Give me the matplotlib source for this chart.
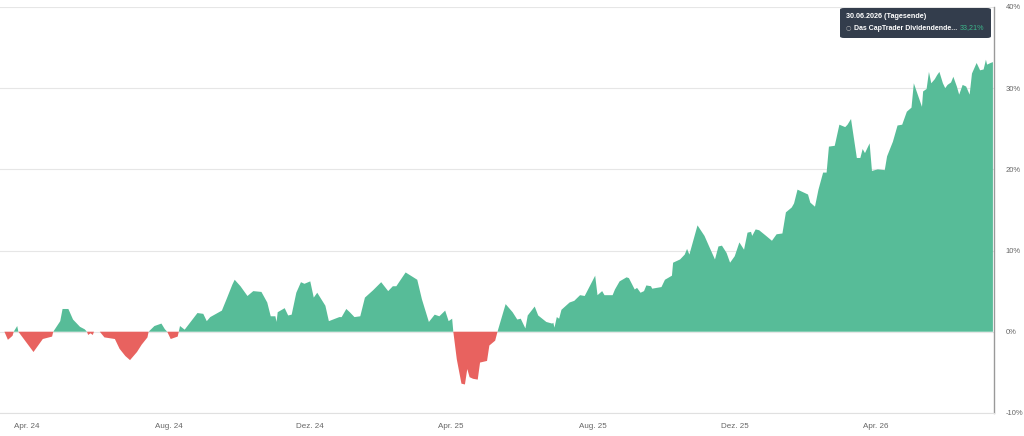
import numpy as np
import pandas as pd
import matplotlib
matplotlib.use("Agg")
import matplotlib.pyplot as plt
import matplotlib.dates as mdates
from matplotlib.patches import FancyBboxPatch

plt.rcParams['font.family'] = ['Liberation Sans', 'DejaVu Sans']

# days since 1 Apr 2024 and performance in %
start = pd.Timestamp("2024-04-01")
days = [-19, -16, -12, -11, -8, -7, 6, 14, 22, 23, 29, 31, 36, 40, 46, 50, 52, 53, 55, 57,
        58, 63, 67, 76, 80, 85, 89, 95, 99, 104, 105, 110, 116, 119, 121, 124, 130, 132, 136, 147,
        152, 155, 158, 168, 172, 177, 179, 184, 190, 195, 202, 207, 210, 214, 215, 216, 222, 225, 228, 232,
        236, 239, 244, 247, 250, 257, 260, 269, 271, 275, 278, 282, 287, 291, 298, 305, 311, 315, 318, 326,
        336, 340, 346, 351, 355, 360, 363, 366, 367, 370, 374, 377, 379, 381, 384, 388, 390, 396, 398, 403,
        405, 412, 418, 422, 425, 429, 431, 437, 440, 447, 452, 453, 454, 456, 458, 460, 467, 471, 476, 480,
        489, 491, 495, 497, 504, 506, 510, 516, 518, 523, 525, 528, 531, 533, 537, 538, 546, 549, 555, 556,
        562, 566, 568, 570, 577, 583, 587, 592, 595, 598, 602, 605, 609, 613, 617, 620, 623, 624, 627, 630,
        636, 641, 645, 650, 653, 658, 660, 663, 672, 674, 678, 681, 685, 688, 690, 695, 699, 704, 706, 709,
        714, 717, 719, 721, 725, 727, 732, 738, 740, 745, 749, 753, 757, 761, 763, 770, 771, 774, 776, 778,
        781, 783, 785, 788, 790, 792, 795, 797, 800, 802, 805, 808, 811, 813, 817, 820, 823, 825, 826, 829,
        831]
perf = [0, -1.0, -0.5, 0, 0.7, 0, -2.5, -0.9, -0.6, 0, 1.3, 2.8, 2.8, 1.5, 0.6, 0.3, 0, -0.4, -0.2, -0.4,
        0, 0, -0.7, -0.9, -2.1, -3.0, -3.5, -2.5, -1.6, -0.7, 0, 0.7, 1.0, 0.3, 0, -0.9, -0.6, 0.7, 0.25, 2.3,
        2.2, 1.3, 1.8, 2.6, 4.0, 5.8, 6.4, 5.6, 4.4, 5.0, 4.9, 3.6, 1.9, 1.9, 1.2, 2.4, 2.9, 2.0, 2.1, 4.8,
        6.1, 5.9, 6.2, 4.2, 4.8, 3.2, 1.3, 1.8, 1.8, 2.8, 2.4, 1.8, 1.9, 4.2, 5.1, 6.1, 5.0, 5.6, 5.6, 7.3,
        6.4, 4.0, 1.2, 2.1, 1.9, 2.6, 1.3, 1.6, 0, -3.4, -6.4, -6.5, -4.6, -5.6, -5.8, -5.9, -3.8, -3.6, -1.7, -1.1,
        0, 3.4, 2.4, 1.5, 1.6, 0.4, 2.0, 3.1, 2.0, 1.2, 1.0, 1.1, 0.5, 1.8, 1.6, 2.7, 3.6, 3.8, 4.5, 4.4,
        6.9, 4.5, 5.0, 4.5, 4.5, 5.2, 6.2, 6.7, 6.6, 5.2, 5.4, 4.8, 5.0, 5.7, 5.6, 5.3, 5.5, 6.4, 6.9, 8.5,
        8.9, 9.5, 10.2, 9.5, 13.1, 11.8, 10.5, 8.9, 10.5, 10.6, 9.7, 8.5, 9.3, 11.0, 10.1, 12.2, 12.3, 11.8, 12.6, 12.5,
        11.8, 11.2, 12.0, 12.1, 14.7, 15.3, 15.8, 17.5, 16.9, 15.9, 15.4, 17.5, 19.6, 19.6, 22.8, 22.9, 25.5, 25.2, 25.5, 26.2,
        21.4, 21.4, 22.5, 22.0, 23.2, 19.8, 20.0, 19.9, 21.6, 23.4, 25.4, 25.5, 27.1, 27.6, 30.6, 27.7, 29.6, 29.9, 32.0, 30.6,
        31.1, 31.6, 32.0, 30.6, 30.0, 30.4, 30.7, 31.4, 30.2, 29.2, 30.4, 30.2, 29.2, 31.8, 33.1, 32.2, 32.3, 33.5, 32.9, 33.1,
        33.21]

tick_months = ["2024-04-01", "2024-08-01", "2024-12-01", "2025-04-01", "2025-08-01", "2025-12-01", "2026-04-01"]
tick_labels = ["Apr. 24", "Aug. 24", "Dez. 24", "Apr. 25", "Aug. 25", "Dez. 25", "Apr. 26"]
y_ticks = [-10, 0, 10, 20, 30, 40]

dates = start + pd.to_timedelta(days, unit="D")
x = mdates.date2num(dates.to_pydatetime())
y = np.array(perf)

green = "#57bc98"
red = "#e8625f"

fig = plt.figure(figsize=(10.24, 4.36), dpi=100)
ax = fig.add_axes([0.0, 0.053, 0.971, 0.931])

ax.fill_between(x, y, 0, where=y >= 0, interpolate=True, color=green, lw=0)
ax.fill_between(x, y, 0, where=y <= 0, interpolate=True, color=red, lw=0)

ax.set_xlim(mdates.date2num(start - pd.Timedelta(days=22.8)),
            mdates.date2num(start + pd.Timedelta(days=832.2)))
ax.set_ylim(-10, 40)

ax.set_yticks(y_ticks)
ax.set_yticklabels([f"{v}%" for v in y_ticks])
ax.yaxis.tick_right()
ax.tick_params(axis="y", length=0, pad=8, labelsize=5.5, labelcolor="#666666")
ax.grid(axis="y", color="#e6e6e6", lw=0.8)
ax.set_axisbelow(True)

ax.set_xticks(mdates.date2num(pd.to_datetime(tick_months).to_pydatetime()))
ax.set_xticklabels(tick_labels)
ax.tick_params(axis="x", length=0, pad=7, labelsize=5.8, labelcolor="#666666")

for s in ["top", "left"]:
    ax.spines[s].set_visible(False)
ax.spines["bottom"].set_color("#e0e0e0")
ax.spines["bottom"].set_linewidth(0.8)
ax.spines["right"].set_color("#999999")
ax.spines["right"].set_linewidth(1.0)

# tooltip
box = FancyBboxPatch((840 / 1024, 1 - 38 / 436), 151 / 1024, 30 / 436,
                     boxstyle="round,pad=0,rounding_size=0.004", transform=fig.transFigure,
                     facecolor="#333d4c", edgecolor="none", zorder=5)
fig.patches.append(box)
fig.text(846 / 1024, 1 - 17 / 436, "30.06.2026 (Tagesende)", color="white", fontsize=5.2,
         fontweight="bold", va="center", zorder=6)
fig.text(846 / 1024, 1 - 28 / 436, "○", color="#bbbbbb", fontsize=4.5, va="center",
         family=["DejaVu Sans"], zorder=6)
fig.text(854 / 1024, 1 - 28 / 436, "Das CapTrader Dividendende...", color="white", fontsize=5.0,
         fontweight="bold", va="center", zorder=6)
fig.text(984 / 1024, 1 - 28 / 436, "33,21%", color="#3cb58a", fontsize=5.2, ha="right",
         va="center", zorder=6)

fig.savefig("out.png", dpi=100)
